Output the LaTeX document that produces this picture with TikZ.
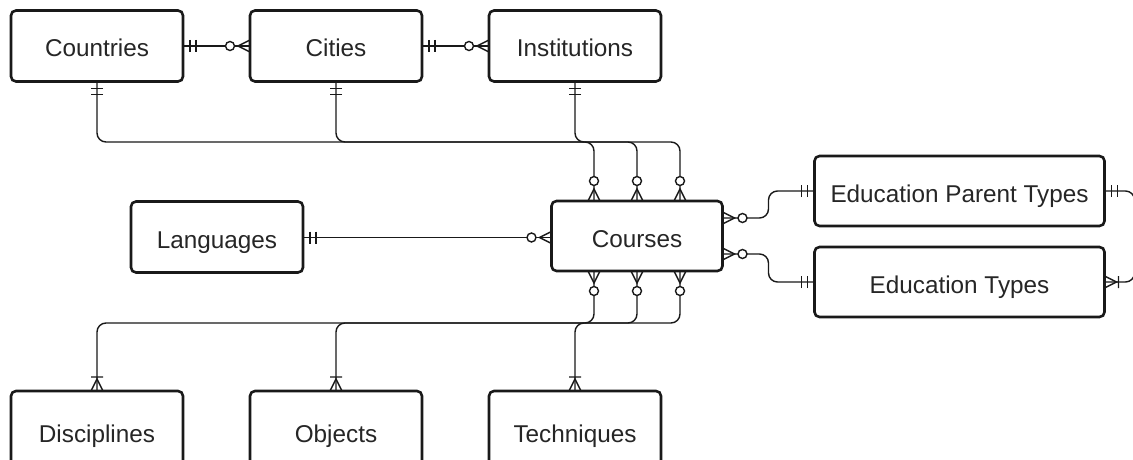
\documentclass[tikz,border=0pt]{standalone}
\usepackage{fontspec}
\setmainfont{Liberation Sans}
\usetikzlibrary{calc}
\begin{document}
\begin{tikzpicture}[x=1pt,y=-1pt,
  entity/.style={draw=black!90, line width=2.6pt, rounded corners=5pt, minimum width=172pt, minimum height=71pt, inner sep=0pt, outer sep=0pt, text height=22pt, text depth=0pt, font=\fontsize{24.3}{29}\selectfont, text=black!85, fill=white},
  conn/.style={draw=black!90, line width=1.4pt, rounded corners=9pt},
  mk/.style={draw=black!90, line width=1.4pt},
  pics/onlyone/.style={code={\draw[mk] (7,-6)--(7,6) (13,-6)--(13,6);}},
  pics/zeromany/.style={code={\draw[mk] (0,-6)--(12,0)--(0,6); \draw[mk,fill=white] (20,0) circle[radius=4.5];}},
  pics/onemany/.style={code={\draw[mk] (0,-6)--(12,0)--(0,6) (14,-6)--(14,6);}}
]
\path[use as bounding box] (0,0) rectangle (1133,460);
\clip (0,0) rectangle (1133,460);

% entities
\node[entity] (countries) at (97,46) {Countries};
\node[entity] (cities) at (336,46) {Cities};
\node[entity] (institutions) at (575,46) {Institutions};
\node[entity] (languages) at (217,237) {Languages};
\node[entity, minimum width=171pt, minimum height=70pt] (courses) at (637,236) {Courses};
\node[entity, minimum width=290pt, minimum height=70pt] (ept) at (959.5,191) {Education Parent Types};
\node[entity, minimum width=290pt, minimum height=70pt] (et) at (959.5,282) {Education Types};
\node[entity, minimum height=80pt] (disciplines) at (97,431) {Disciplines};
\node[entity, minimum height=80pt] (objects) at (336,431) {Objects};
\node[entity, minimum height=80pt] (techniques) at (575,431) {Techniques};

% attachment points
\coordinate (ct1) at ($(courses.north)+(-43,0)$);
\coordinate (ct2) at (courses.north);
\coordinate (ct3) at ($(courses.north)+(43,0)$);
\coordinate (cb1) at ($(courses.south)+(-43,0)$);
\coordinate (cb2) at (courses.south);
\coordinate (cb3) at ($(courses.south)+(43,0)$);
\coordinate (cr1) at ($(courses.east)+(0,-18)$);
\coordinate (cr2) at ($(courses.east)+(0,18)$);
\coordinate (cl) at ($(courses.west)+(0,1.5)$);
\coordinate (hTop) at (0,142);
\coordinate (hBot) at (0,323);

% connectors
\draw[conn] (countries.east) -- (cities.west);
\draw[conn] (cities.east) -- (institutions.west);
\draw[conn] (countries.south) |- (hTop -| ct3) -- (ct3);
\draw[conn] (cities.south) |- (hTop -| ct2) -- (ct2);
\draw[conn] (institutions.south) |- (hTop -| ct1) -- (ct1);
\draw[conn] (languages.east |- cl) -- (cl);
\draw[conn] (cr1) -- ++(46,0) |- (ept.west);
\draw[conn] (cr2) -- ++(46,0) |- (et.west);
\draw[conn] (ept.east) -- ++(30,0) |- (et.east);
\draw[conn] (cb3) |- (hBot -| disciplines.north) -- (disciplines.north);
\draw[conn] (cb2) |- (hBot -| objects.north) -- (objects.north);
\draw[conn] (cb1) |- (hBot -| techniques.north) -- (techniques.north);

% markers
\pic at (countries.east) {onlyone};
\pic[rotate=180] at (cities.west) {zeromany};
\pic at (cities.east) {onlyone};
\pic[rotate=180] at (institutions.west) {zeromany};
\pic[rotate=-90] at (countries.south) {onlyone};
\pic[rotate=-90] at (cities.south) {onlyone};
\pic[rotate=-90] at (institutions.south) {onlyone};
\pic[rotate=90] at (ct1) {zeromany};
\pic[rotate=90] at (ct2) {zeromany};
\pic[rotate=90] at (ct3) {zeromany};
\pic at (languages.east |- cl) {onlyone};
\pic[rotate=180] at (cl) {zeromany};
\pic at (cr1) {zeromany};
\pic at (cr2) {zeromany};
\pic[rotate=180] at (ept.west) {onlyone};
\pic[rotate=180] at (et.west) {onlyone};
\pic at (ept.east) {onlyone};
\pic at (et.east) {onemany};
\pic[rotate=-90] at (cb1) {zeromany};
\pic[rotate=-90] at (cb2) {zeromany};
\pic[rotate=-90] at (cb3) {zeromany};
\pic[rotate=90] at (disciplines.north) {onemany};
\pic[rotate=90] at (objects.north) {onemany};
\pic[rotate=90] at (techniques.north) {onemany};
\end{tikzpicture}
\end{document}
